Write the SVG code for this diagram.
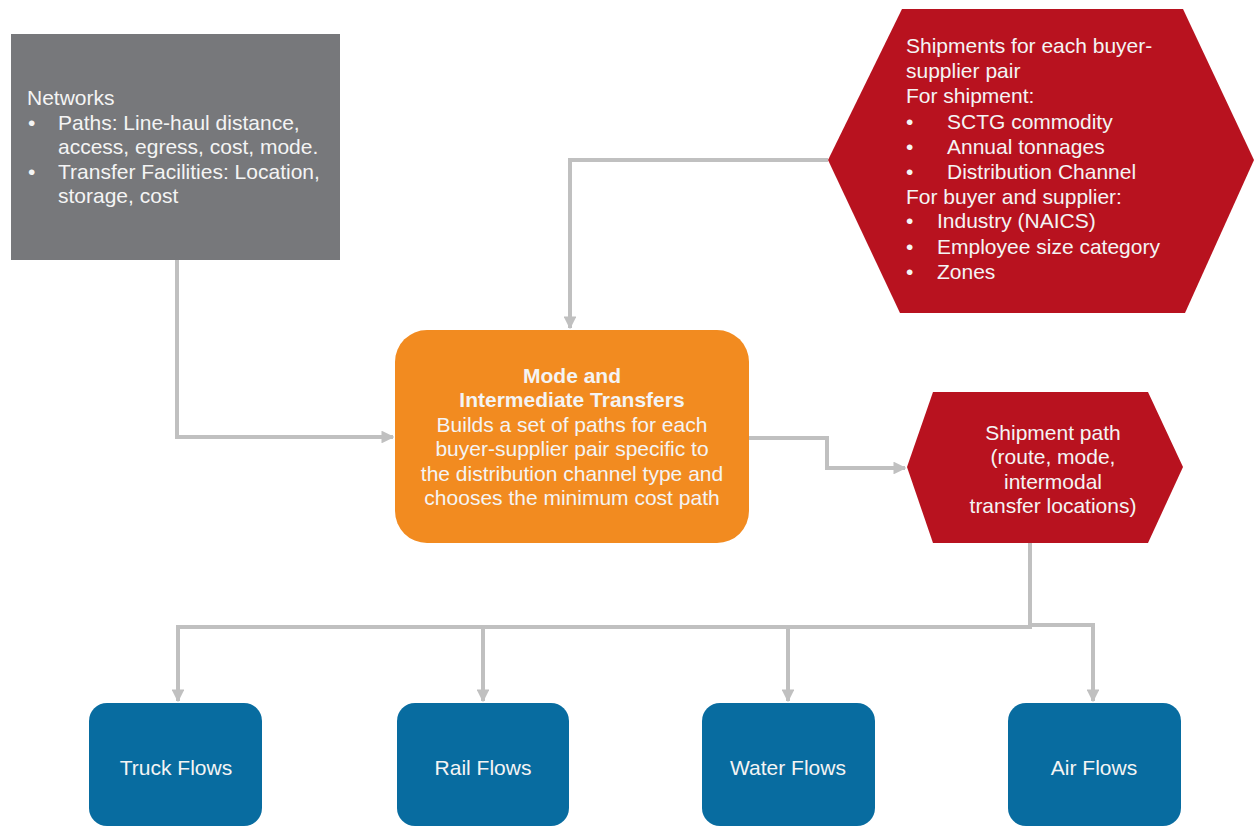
<svg xmlns="http://www.w3.org/2000/svg" width="1254" height="826" viewBox="0 0 1254 826">
<style>
text{font-family:"Liberation Sans",Arial,sans-serif;font-size:21px;fill:#f4f4f4}
.c{text-anchor:middle}
.b{font-weight:bold}
.conn{fill:none;stroke:#c0c0c0;stroke-width:4}
.blue{fill:#086ca0}
</style>
<defs>
<marker id="ah" viewBox="0 0 10 10" refX="9" refY="5" markerWidth="3.2" markerHeight="3.2" orient="auto" markerUnits="strokeWidth">
<path d="M0,0 L10,5 L0,10 Z" fill="#c0c0c0"/>
</marker>
</defs>
<rect width="1254" height="826" fill="#ffffff"/>
<g id="connectors">
<path class="conn" d="M177,260 V437 H393" marker-end="url(#ah)"/>
<path class="conn" d="M828,160 H570 V328" marker-end="url(#ah)"/>
<path class="conn" d="M749,438 H827 V468 H905" marker-end="url(#ah)"/>
<path class="conn" d="M1030,543 V627 H178 V701" marker-end="url(#ah)"/>
<path class="conn" d="M483,627 V701" marker-end="url(#ah)"/>
<path class="conn" d="M788,627 V701" marker-end="url(#ah)"/>
<path class="conn" d="M1030,625 H1093 V701" marker-end="url(#ah)"/>
</g>
<g id="networks">
<rect x="11" y="34" width="329" height="226" fill="#77787b"/>
<text x="27" y="105">Networks</text>
<text x="28" y="130">•</text><text x="58" y="130">Paths: Line-haul distance,</text>
<text x="58" y="154">access, egress, cost, mode.</text>
<text x="28" y="179">•</text><text x="58" y="179">Transfer Facilities: Location,</text>
<text x="58" y="203">storage, cost</text>
</g>
<g id="shipments">
<polygon points="902,9 1183,9 1254,160 1185,313 900,313 828,160" fill="#b8121f"/>
<text x="906" y="53">Shipments for each buyer-</text>
<text x="906" y="78">supplier pair</text>
<text x="906" y="103">For shipment:</text>
<text x="906" y="129">•</text><text x="947" y="129">SCTG commodity</text>
<text x="906" y="154">•</text><text x="947" y="154">Annual tonnages</text>
<text x="906" y="179">•</text><text x="947" y="179">Distribution Channel</text>
<text x="906" y="204">For buyer and supplier:</text>
<text x="906" y="228">•</text><text x="937" y="228">Industry (NAICS)</text>
<text x="906" y="254">•</text><text x="937" y="254">Employee size category</text>
<text x="906" y="279">•</text><text x="937" y="279">Zones</text>
</g>
<g id="mode">
<rect x="395" y="330" width="354" height="213" rx="32" fill="#f28b20"/>
<text class="c b" x="572" y="383">Mode and</text>
<text class="c b" x="572" y="407">Intermediate Transfers</text>
<text class="c" x="572" y="432">Builds a set of paths for each</text>
<text class="c" x="572" y="456">buyer-supplier pair specific to</text>
<text class="c" x="572" y="481">the distribution channel type and</text>
<text class="c" x="572" y="505">chooses the minimum cost path</text>
</g>
<g id="shipmentpath">
<polygon points="933,392 1148,392 1183,467 1148,543 933,543 907,467" fill="#b8121f"/>
<text class="c" x="1053" y="440">Shipment path</text>
<text class="c" x="1053" y="464">(route, mode,</text>
<text class="c" x="1053" y="489">intermodal</text>
<text class="c" x="1053" y="513">transfer locations)</text>
</g>
<g id="truck">
<rect class="blue" x="89" y="703" width="173" height="123" rx="18"/>
<text class="c" x="176" y="775">Truck Flows</text>
</g>
<g id="rail">
<rect class="blue" x="397" y="703" width="172" height="123" rx="18"/>
<text class="c" x="483" y="775">Rail Flows</text>
</g>
<g id="water">
<rect class="blue" x="702" y="703" width="173" height="123" rx="18"/>
<text class="c" x="788" y="775">Water Flows</text>
</g>
<g id="air">
<rect class="blue" x="1008" y="703" width="173" height="123" rx="18"/>
<text class="c" x="1094" y="775">Air Flows</text>
</g>
</svg>
